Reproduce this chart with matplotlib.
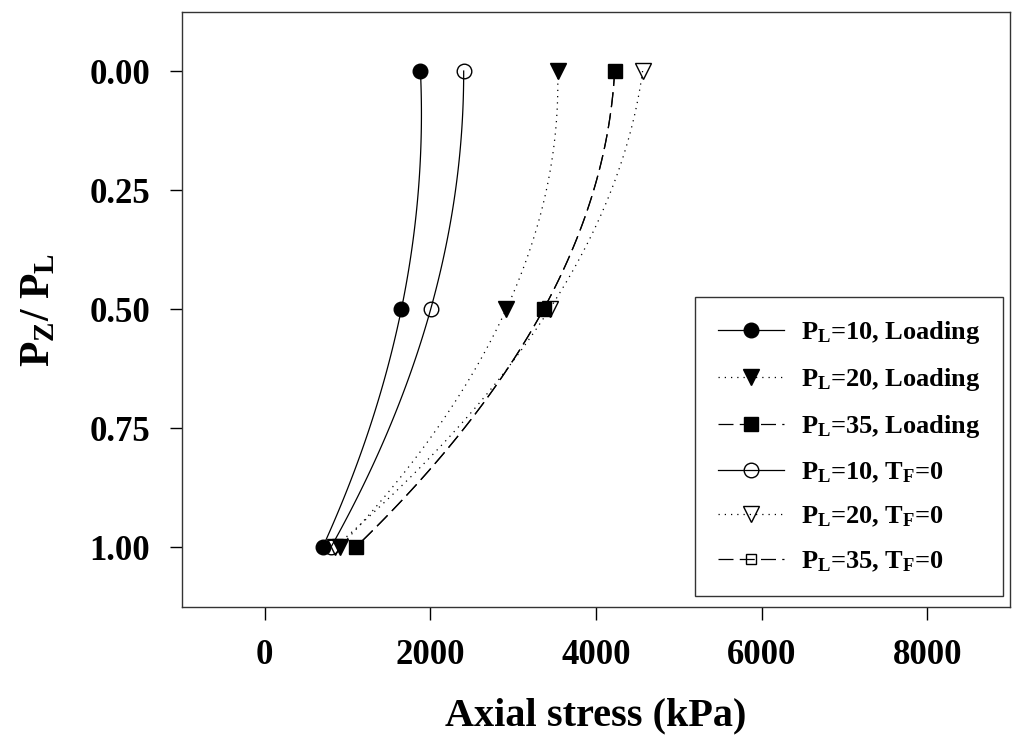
import numpy as np
import matplotlib.pyplot as plt
from matplotlib.ticker import FixedLocator

plt.rcParams['font.family'] = 'Liberation Serif'
plt.rcParams['font.weight'] = 'bold'
plt.rcParams['axes.labelweight'] = 'bold'
plt.rcParams['mathtext.fontset'] = 'custom'
plt.rcParams['mathtext.rm'] = 'Liberation Serif:bold'
plt.rcParams['mathtext.it'] = 'Liberation Serif:bold'
plt.rcParams['mathtext.bf'] = 'Liberation Serif:bold'

# Depth ratio Pz/PL at which stress was recorded
depth = [0.0, 0.5, 1.0]

# Axial stress (kPa) at each depth ratio
pl10_loading = [1880, 1650, 700]
pl20_loading = [3537, 2917, 905]
pl35_loading = [4225, 3368, 1100]
pl10_tf0 = [2402, 2004, 800]
pl20_tf0 = [4563, 3440, 845]
pl35_tf0 = [4225, 3368, 1100]

labels = [r'$\mathbf{P_L}$=10, Loading',
          r'$\mathbf{P_L}$=20, Loading',
          r'$\mathbf{P_L}$=35, Loading',
          r'$\mathbf{P_L}$=10, $\mathbf{T_F}$=0',
          r'$\mathbf{P_L}$=20, $\mathbf{T_F}$=0',
          r'$\mathbf{P_L}$=35, $\mathbf{T_F}$=0']

series = [pl10_loading, pl20_loading, pl35_loading, pl10_tf0, pl20_tf0, pl35_tf0]
markers = ['o', 'v', 's', 'o', 'v', 's']
filled = [True, True, True, False, False, False]
styles = ['-', (0, (1, 4)), (0, (12, 5)), '-', (0, (1, 4)), (0, (12, 5))]
msizes = [10.5, 11, 10, 10.5, 11, 7]

fig = plt.figure(figsize=(10.14, 7.37), dpi=100)
ax = fig.add_axes([0.1795, 0.1764, 0.8165, 0.8073])

# smooth curve through the three points (x as a quadratic in depth)
yy = np.linspace(0, 1, 101)
order = [3, 4, 5, 0, 1, 2]
handles = {}
for i in order:
    coef = np.polyfit(depth, series[i], 2)
    xx = np.polyval(coef, yy)
    h, = ax.plot(xx, yy, color='black', lw=0.9, ls=styles[i],
                 marker=markers[i], markevery=[0, 50, 100], ms=msizes[i],
                 mfc='black' if filled[i] else 'none', mec='black', mew=1.0,
                 label=labels[i])
    handles[i] = h

ax.set_xlim(-1000, 9000)
ax.set_ylim(1.126, -0.124)
ax.xaxis.set_major_locator(FixedLocator([0, 2000, 4000, 6000, 8000]))
ax.yaxis.set_major_locator(FixedLocator([0, 0.25, 0.5, 0.75, 1.0]))
ax.set_yticklabels(['0.00', '0.25', '0.50', '0.75', '1.00'])
ax.tick_params(direction='out', length=9, width=1, labelsize=25)
ax.tick_params(axis='x', pad=14)
ax.tick_params(axis='y', pad=14)
for s in ax.spines.values():
    s.set_linewidth(1.0)
    s.set_color('#333333')

ax.set_xlabel('Axial stress (kPa)', fontsize=29, labelpad=18)
ax.set_ylabel(r'$\mathbf{P_Z}$/ $\mathbf{P_L}$', fontsize=30, labelpad=22)

leg = ax.legend([handles[i] for i in range(6)], labels, loc='lower right',
                bbox_to_anchor=(0.9915, 0.0185), borderaxespad=0,
                fontsize=19, frameon=True, fancybox=False, edgecolor='black',
                handlelength=2.5, handletextpad=0.65, labelspacing=0.76,
                borderpad=0.85)
leg.get_frame().set_linewidth(1.0)

fig.savefig('out.png', dpi=100)
